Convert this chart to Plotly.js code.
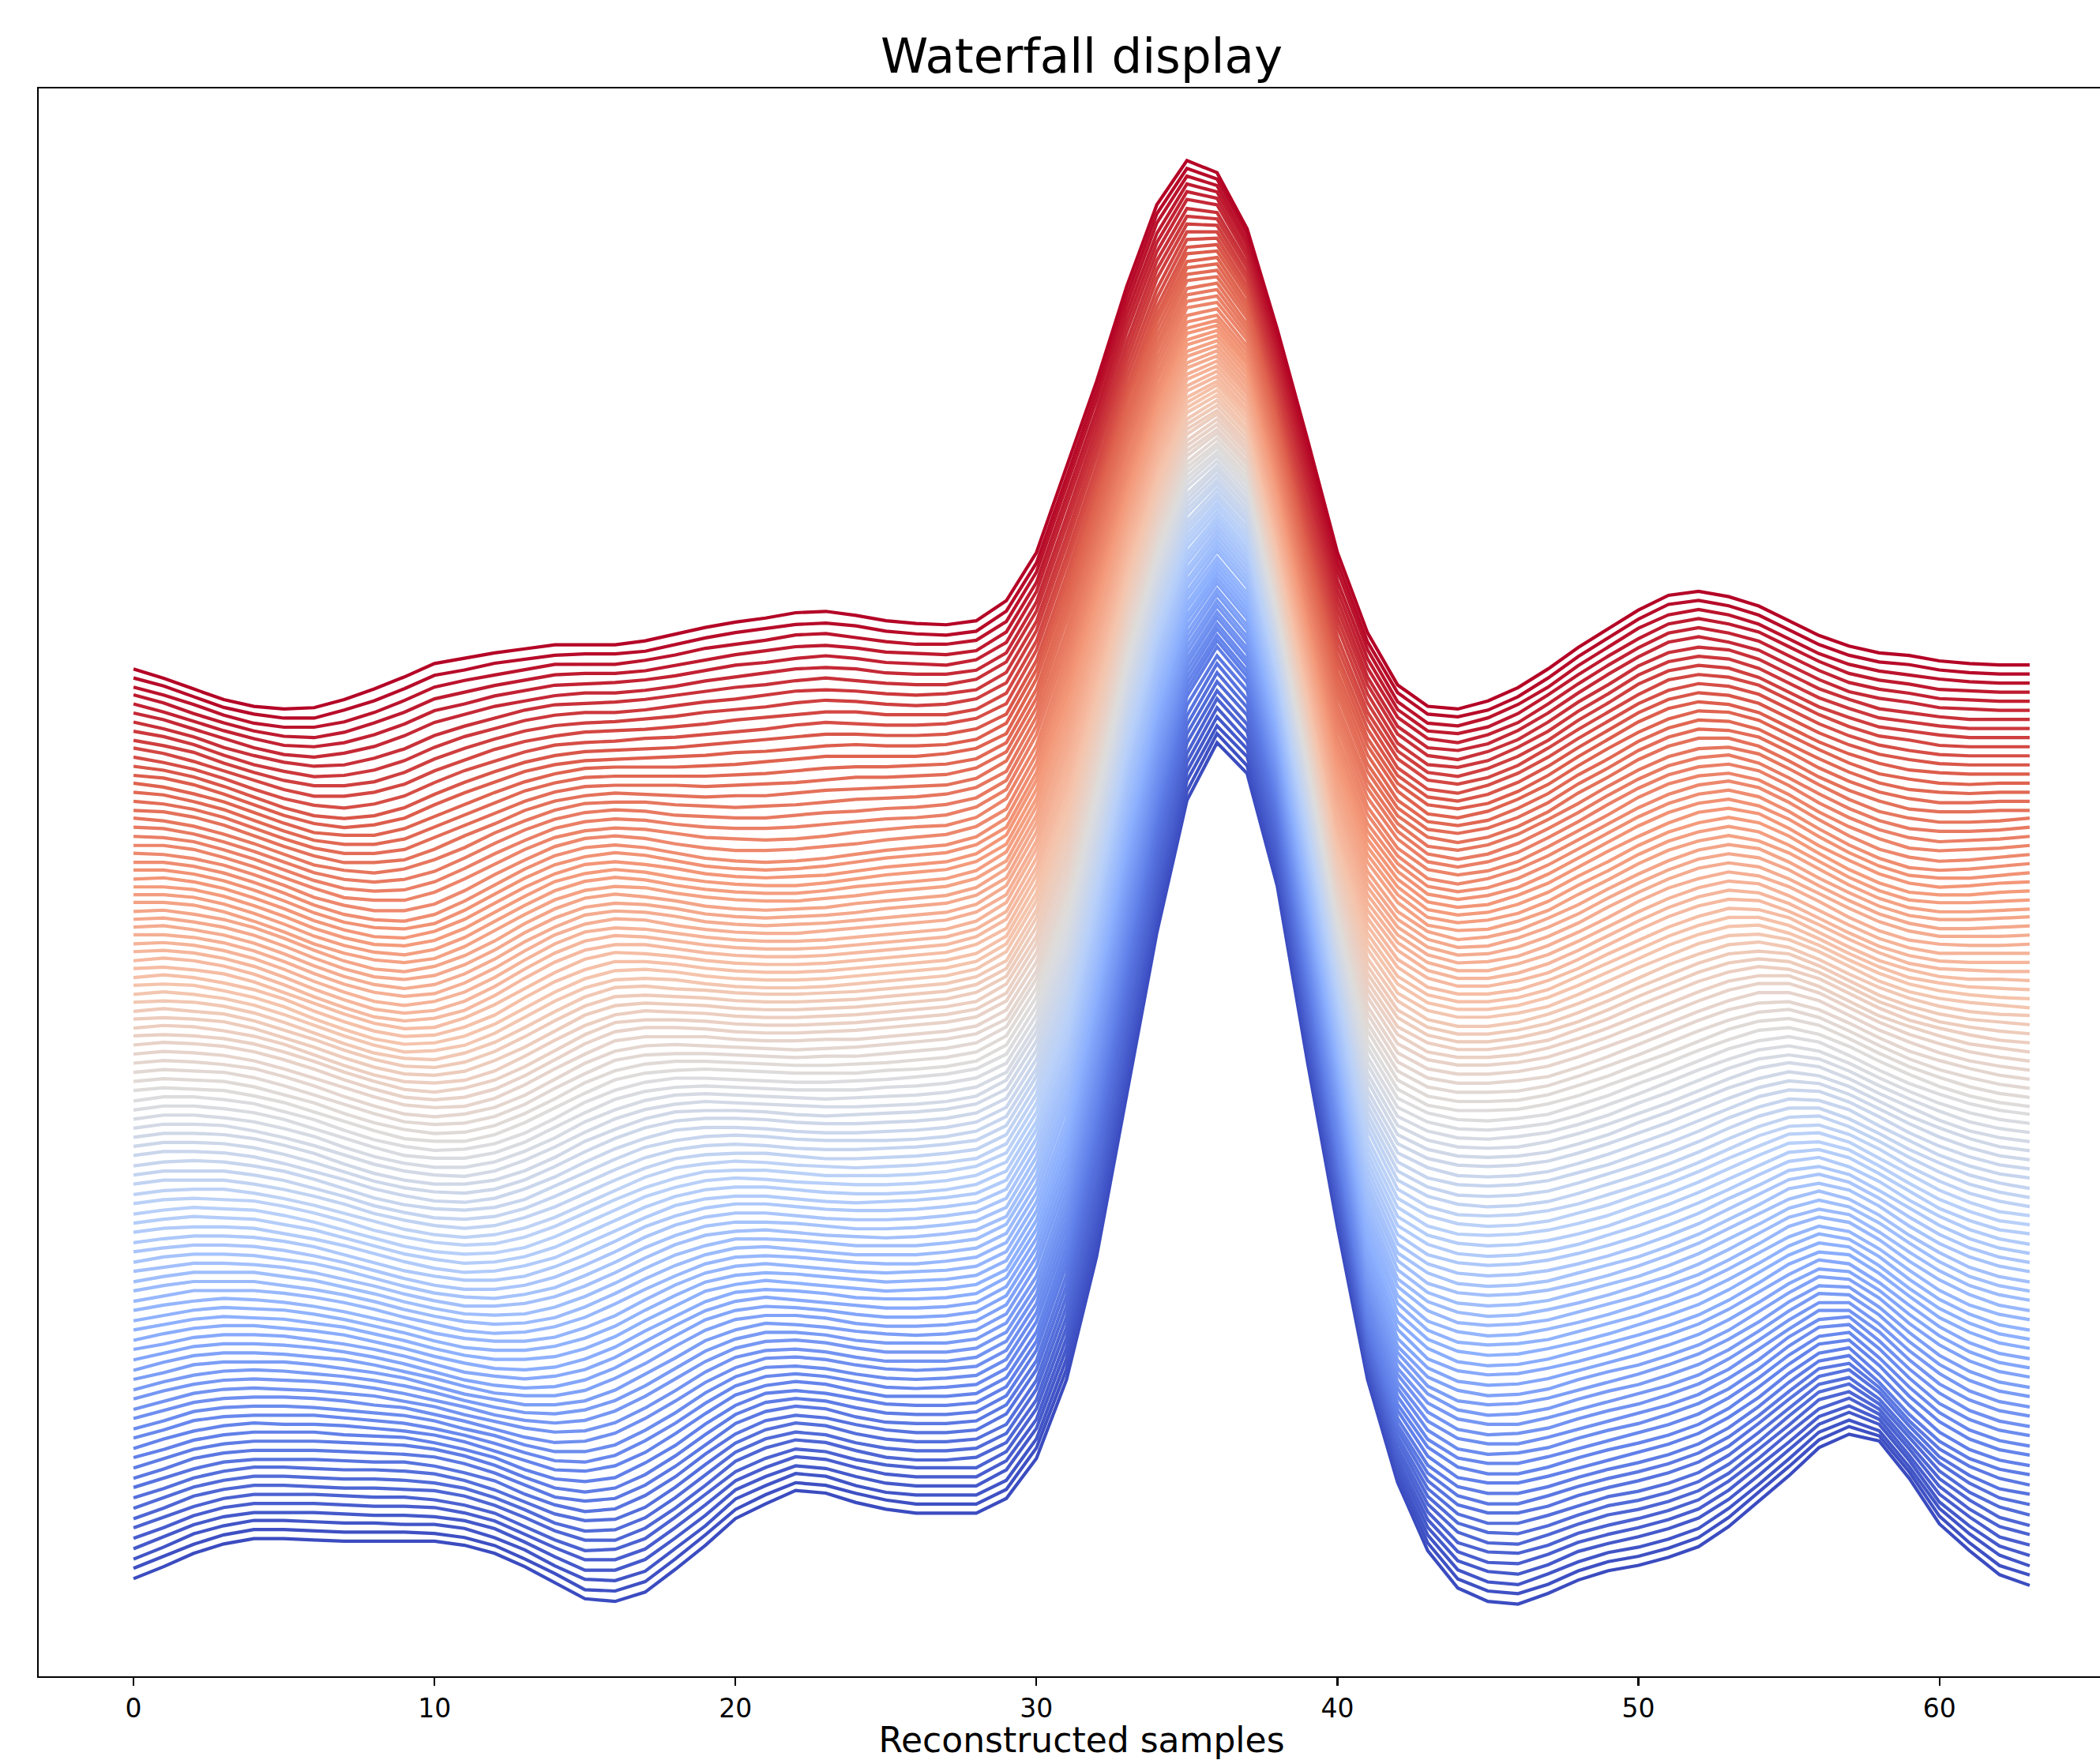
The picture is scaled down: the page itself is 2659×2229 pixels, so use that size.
<!DOCTYPE html>
<html><head><meta charset="utf-8">
<script src="https://cdn.plot.ly/plotly-3.0.1.min.js"></script>
<style>html,body{margin:0;padding:0;overflow:hidden;background:#fff;}</style>
</head><body><div id="chart"></div>
<script>
// x positions: sample index
const samples = [0,1,2,3,4,5,6,7,8,9,10,11,12,13,14,15,16,17,18,19,20,21,22,23,24,25,26,27,28,29,30,31,32,33,34,35,36,37,38,39,40,41,42,43,44,45,46,47,48,49,50,51,52,53,54,55,56,57,58,59,60,61,62,63];
const tickValues = [0,10,20,30,40,50,60];
// one array per waterfall row (signal value at each sample), bottom row first
const r00=[0,9,19,26,30,30,29,28,28,28,28,25,19,9,-3,-15,-17,-10,7,25,45,56,66,64,57,52,49,49,49,60,90,149,241,362,483,582,625,602,518,387,263,149,72,21,-7,-17,-19,-11,-1,6,10,16,24,39,58,77,98,108,103,75,41,21,3,-5];
const r01=[1,10,19,26,30,30,29,28,28,28,27,24,18,8,-3,-15,-16,-9,8,26,45,56,65,63,57,52,49,49,49,60,91,150,243,364,484,582,625,601,517,386,262,146,70,20,-7,-16,-18,-11,-1,6,10,16,24,39,58,77,97,107,100,73,40,20,3,-4];
const r02=[1,10,20,26,30,30,29,28,28,27,27,24,17,8,-4,-14,-15,-8,9,26,46,56,65,63,56,51,49,49,49,60,91,151,245,366,485,583,624,601,516,385,260,143,67,19,-7,-16,-18,-10,-1,6,10,16,24,39,57,76,96,105,97,70,39,20,4,-4];
const r03=[2,11,20,26,29,29,29,28,27,27,26,23,17,7,-4,-14,-14,-6,10,27,46,56,64,62,56,51,49,49,49,61,92,152,248,368,486,583,624,600,514,384,259,140,65,18,-7,-15,-17,-10,0,6,11,17,25,39,57,76,95,104,95,68,37,19,4,-3];
const r04=[3,11,20,26,29,29,29,28,27,27,26,22,16,6,-4,-13,-13,-5,11,28,46,56,64,62,56,51,49,49,49,61,92,153,250,370,487,583,624,599,513,383,257,137,62,17,-7,-15,-16,-9,0,6,11,17,25,39,57,75,94,102,92,65,36,19,4,-2];
const r05=[4,12,20,26,29,29,29,28,27,27,25,21,15,5,-5,-13,-12,-4,12,29,46,56,63,61,55,51,49,49,49,61,93,154,252,372,488,583,624,599,512,382,256,134,60,16,-7,-14,-15,-9,0,6,11,17,25,39,56,75,93,101,89,63,35,18,5,-1];
const r06=[4,12,21,26,29,29,28,27,27,26,25,21,14,5,-5,-12,-12,-3,12,29,47,57,63,61,55,50,48,48,50,61,93,155,254,375,490,584,623,598,511,380,254,130,57,15,-6,-14,-15,-8,0,7,11,17,25,38,56,74,93,99,86,60,34,18,5,-1];
const r07=[5,13,21,26,29,29,28,27,27,26,24,20,13,4,-6,-12,-11,-2,13,30,47,57,62,60,54,50,48,48,50,61,94,156,256,377,491,584,623,598,510,379,253,127,55,14,-6,-13,-14,-8,0,7,11,17,25,38,55,74,92,98,83,58,33,17,6,0];
const r08=[6,13,21,26,29,29,28,27,27,26,24,19,12,3,-6,-11,-10,-1,14,31,47,57,62,60,54,50,48,48,50,61,94,157,258,379,492,584,623,597,509,378,251,124,52,13,-6,-13,-13,-7,0,7,11,17,25,38,55,73,91,96,80,55,32,17,6,1];
const r09=[7,14,21,26,28,28,28,27,26,26,23,18,12,2,-6,-11,-9,1,15,32,47,57,61,59,54,50,48,48,50,62,95,158,261,381,493,584,623,596,507,377,250,121,50,12,-6,-12,-12,-7,1,7,12,18,26,38,55,73,90,95,78,53,30,16,6,2];
const r10=[7,14,22,26,28,28,28,27,26,25,23,18,11,2,-7,-10,-8,2,16,32,48,57,61,59,53,49,48,48,50,62,95,159,263,383,494,585,622,596,506,376,248,118,47,11,-6,-12,-12,-6,1,7,12,18,26,38,54,72,89,93,75,50,29,16,7,2];
const r11=[8,15,22,26,28,28,28,27,26,25,22,17,10,1,-7,-10,-7,3,17,33,48,57,60,58,53,49,48,48,50,62,96,160,265,385,495,585,622,595,505,375,247,115,45,10,-6,-11,-11,-6,1,7,12,18,26,38,54,72,88,92,72,48,28,15,7,3];
const r12=[9,15,22,26,28,28,28,26,25,24,20,15,9,0,-7,-9,-6,5,18,34,48,57,59,57,53,49,48,48,50,62,96,160,265,385,494,583,620,593,502,373,245,113,44,10,-6,-10,-10,-5,1,7,13,19,27,39,54,72,87,91,71,48,28,15,7,3];
const r13=[9,16,22,26,28,27,27,26,24,22,19,14,7,0,-7,-8,-4,6,20,35,49,56,59,57,52,48,48,48,50,62,96,160,266,385,493,581,617,590,500,370,243,110,42,10,-5,-10,-10,-5,2,8,13,19,27,39,55,72,87,90,71,48,29,16,8,4];
const r14=[10,16,23,26,27,27,27,25,23,21,17,12,6,-1,-7,-8,-3,8,21,36,49,56,58,56,52,48,47,48,50,62,97,160,266,385,492,579,615,588,497,368,241,108,41,9,-5,-9,-9,-4,2,8,14,20,28,40,55,72,86,89,70,48,29,16,8,4];
const r15=[10,16,23,26,27,27,26,24,22,20,16,10,5,-2,-7,-7,-2,9,22,37,49,56,57,55,51,48,47,48,50,62,97,160,267,385,491,577,612,585,494,366,239,106,40,9,-5,-9,-8,-4,3,9,14,21,29,40,55,72,86,88,70,48,29,17,9,5];
const r16=[11,17,23,26,27,27,26,24,21,19,14,9,3,-3,-7,-6,0,11,24,38,49,56,57,55,51,48,47,48,50,62,97,160,267,385,490,575,610,583,491,364,237,104,38,9,-4,-8,-8,-3,3,9,15,21,29,41,55,72,85,87,69,48,30,17,9,5];
const r17=[11,17,23,26,27,26,25,23,21,17,13,7,2,-3,-6,-5,1,12,25,39,50,55,56,54,50,47,47,47,50,62,97,160,268,385,490,572,607,580,489,361,235,101,37,9,-4,-8,-7,-3,4,10,15,22,30,41,56,71,85,85,69,48,30,18,10,6];
const r18=[12,18,23,26,27,26,25,23,20,16,11,6,0,-4,-6,-4,3,14,27,40,50,55,56,54,50,47,47,47,50,62,97,160,268,385,489,570,605,578,486,359,233,99,35,9,-3,-7,-7,-2,4,10,16,22,30,42,56,71,84,84,68,48,31,18,10,6];
const r19=[12,18,23,26,27,26,24,22,19,15,10,4,-1,-5,-6,-3,4,15,28,41,50,55,55,53,49,47,47,47,50,62,97,160,269,385,488,568,602,575,483,357,231,97,34,9,-3,-7,-6,-2,5,11,16,23,31,42,56,71,84,83,68,48,31,19,11,7];
const r20=[13,18,24,26,26,26,24,21,18,14,8,2,-2,-6,-6,-3,5,17,29,42,50,55,54,52,49,47,46,47,50,62,98,160,269,385,487,566,600,573,480,355,229,95,33,8,-3,-6,-5,-1,5,11,17,24,32,43,56,71,83,82,67,48,31,19,11,7];
const r21=[13,19,24,26,26,25,23,21,17,12,7,1,-4,-6,-6,-2,7,18,31,43,51,54,54,52,48,46,46,47,50,62,98,160,270,385,486,564,597,570,478,352,227,92,31,8,-2,-6,-5,-1,6,12,17,24,32,43,57,71,83,81,67,48,32,20,12,8];
const r22=[14,19,24,26,26,25,23,20,16,11,5,-1,-5,-7,-6,-1,8,20,32,44,51,54,53,51,48,46,46,47,50,62,98,160,270,385,485,562,595,568,475,350,225,90,30,8,-2,-5,-4,0,6,12,18,25,33,44,57,71,82,80,66,48,32,20,12,8];
const r23=[15,19,24,26,26,25,22,19,15,10,4,-2,-5,-7,-5,0,9,21,33,44,51,54,52,50,48,46,46,47,50,62,98,160,270,384,483,560,592,565,472,347,223,89,30,8,-1,-4,-3,1,6,12,19,26,34,45,58,71,82,79,65,48,32,20,12,8];
const r24=[15,20,24,26,26,24,22,19,14,9,3,-2,-6,-7,-5,1,10,22,33,44,51,53,52,50,47,46,46,47,50,62,98,160,269,383,482,557,589,562,469,345,220,87,29,9,-1,-4,-3,1,7,13,19,26,34,45,58,72,81,79,65,48,32,21,13,9];
const r25=[16,20,24,26,25,24,21,18,13,8,2,-3,-6,-6,-4,2,11,23,34,45,50,53,51,49,47,45,46,47,50,61,98,160,269,383,480,555,586,559,466,342,218,86,29,9,0,-3,-2,2,7,13,20,27,35,46,59,72,81,78,64,47,32,21,13,9];
const r26=[16,20,24,26,25,24,21,17,12,7,1,-4,-6,-6,-3,3,12,24,35,45,50,52,51,49,47,45,46,47,50,61,98,160,269,382,478,552,583,556,463,339,216,85,29,9,0,-2,-1,2,8,14,20,28,36,47,59,72,81,77,64,47,32,21,13,9];
const r27=[17,21,24,26,25,23,20,16,11,6,0,-4,-6,-6,-3,4,13,25,36,45,50,52,50,48,46,45,46,47,50,61,98,160,268,381,476,550,580,553,460,337,213,84,28,9,1,-2,-1,3,8,14,21,28,37,48,60,72,80,76,63,47,32,21,14,10];
const r28=[17,21,25,25,25,23,20,16,11,5,0,-5,-7,-6,-2,5,15,26,36,45,50,51,50,48,46,45,45,47,50,61,98,161,268,380,475,547,578,551,456,334,211,82,28,10,1,-1,0,3,9,15,21,29,37,48,60,73,80,76,63,47,33,22,14,10];
const r29=[18,22,25,25,25,22,19,15,10,4,-1,-5,-7,-6,-2,6,16,27,37,45,50,51,49,47,45,45,45,47,50,61,98,161,267,379,473,545,575,548,453,332,208,81,27,10,2,-1,0,4,9,15,22,29,38,49,61,73,79,75,62,47,33,22,15,11];
const r30=[18,22,25,25,25,22,19,14,9,3,-2,-6,-7,-6,-1,7,17,28,38,45,50,50,49,47,45,45,45,47,50,61,98,161,267,378,471,542,572,545,450,329,206,80,27,10,2,0,1,4,10,16,22,30,39,50,61,73,79,74,62,47,33,22,15,11];
const r31=[19,22,25,25,24,22,18,13,8,2,-3,-7,-7,-5,0,8,18,29,39,46,49,50,48,46,45,44,45,47,50,60,98,161,267,378,469,540,569,542,447,326,204,79,27,10,3,1,2,5,10,16,23,31,40,51,62,73,79,73,61,46,33,22,15,11];
const r32=[19,23,25,25,24,21,18,13,7,1,-4,-7,-8,-5,0,9,19,30,39,46,49,49,48,46,44,44,45,47,50,60,98,161,266,377,468,537,566,539,444,324,201,77,26,11,3,1,2,5,11,17,23,31,40,51,62,74,78,73,61,46,33,23,16,12];
const r33=[20,23,25,25,24,21,17,12,6,0,-5,-8,-8,-5,1,10,20,31,40,46,49,49,47,45,44,44,45,47,50,60,98,161,266,376,466,535,563,536,441,321,199,76,26,11,4,2,3,6,11,17,24,32,41,52,63,74,78,72,60,46,33,23,16,12];
const r34=[20,23,25,25,24,21,17,11,5,-1,-5,-8,-8,-5,2,11,21,32,40,46,49,49,47,45,44,44,45,47,50,60,98,161,265,374,464,532,560,533,438,318,196,75,26,11,5,3,4,7,12,18,25,33,42,53,63,74,77,71,59,46,33,23,16,12];
const r35=[21,24,25,25,24,20,16,11,5,-1,-6,-9,-8,-4,2,12,22,32,41,46,48,48,46,44,43,44,45,47,50,60,98,161,264,373,461,529,556,530,435,316,194,74,26,12,5,3,4,7,12,19,26,34,43,53,64,74,77,70,59,45,33,23,16,12];
const r36=[21,24,26,25,24,20,16,10,4,-2,-6,-9,-8,-4,3,13,23,33,41,46,48,48,46,44,43,43,44,46,50,60,97,160,263,371,459,527,553,526,431,313,191,73,26,12,6,4,5,8,13,19,27,35,44,54,64,74,76,70,58,45,32,23,16,13];
const r37=[21,24,26,25,24,20,15,9,3,-3,-7,-9,-8,-4,4,14,24,34,41,46,48,47,45,44,43,43,44,46,50,60,97,160,262,370,457,524,550,523,428,310,189,72,26,12,6,5,6,9,14,20,28,36,45,55,65,74,75,69,57,44,32,23,16,13];
const r38=[22,25,26,25,24,20,15,9,2,-3,-7,-9,-8,-3,5,15,25,34,41,46,47,47,45,43,43,43,44,46,50,60,97,160,261,368,455,521,546,520,425,307,186,71,26,13,7,5,6,9,15,21,29,37,46,56,65,74,75,68,56,44,32,23,16,13];
const r39=[22,25,26,26,23,19,14,8,2,-4,-8,-10,-8,-3,5,15,25,35,42,45,47,46,44,43,42,43,44,46,49,60,97,160,261,367,452,518,543,517,422,305,184,71,26,13,7,6,7,10,15,22,29,37,46,56,66,73,74,67,56,43,32,23,17,13];
const r40=[23,26,26,26,23,19,14,8,1,-4,-8,-10,-8,-2,6,16,26,35,42,45,46,46,44,42,42,43,44,46,49,60,97,160,260,365,450,515,539,514,419,302,181,70,26,14,8,6,7,10,16,23,30,38,47,57,66,73,74,66,55,43,32,23,17,13];
const r41=[23,26,26,26,23,19,13,7,0,-5,-9,-10,-8,-2,7,17,27,36,42,45,46,45,43,42,42,43,44,46,49,60,97,160,259,364,448,512,536,511,416,299,179,69,26,14,8,7,8,11,17,24,31,39,48,58,67,73,73,65,54,42,32,23,17,13];
const r42=[23,26,27,26,23,19,13,6,-1,-6,-9,-10,-8,-2,8,18,28,37,42,45,46,45,43,42,42,42,43,45,49,60,96,159,258,362,446,510,533,507,412,296,176,68,26,14,9,8,9,12,18,24,32,40,49,59,67,73,72,65,53,42,31,23,17,14];
const r43=[24,27,27,26,23,18,12,6,-1,-6,-10,-11,-8,-1,8,19,29,37,43,45,45,44,42,41,41,42,43,45,49,60,96,159,257,361,443,507,529,504,409,294,174,67,26,15,9,8,9,12,18,25,33,41,50,59,68,73,72,64,53,41,31,23,17,14];
const r44=[24,27,27,26,23,18,12,5,-2,-7,-10,-11,-8,-1,9,20,30,38,43,45,45,44,42,41,41,42,43,45,49,60,96,159,256,359,441,504,526,501,406,291,171,66,26,15,10,9,10,13,19,26,34,42,51,60,68,73,71,63,52,41,31,23,17,14];
const r45=[24,27,27,26,23,18,12,4,-3,-8,-11,-11,-8,-1,9,21,30,38,43,44,44,43,41,40,41,42,43,45,49,60,96,159,255,357,439,501,523,498,403,288,169,66,26,15,10,9,10,13,19,26,35,43,52,61,68,73,70,62,51,40,31,23,17,14];
const r46=[24,27,27,26,22,17,11,4,-3,-8,-11,-12,-8,0,10,21,31,38,42,44,43,42,41,40,40,41,42,44,48,60,96,158,254,356,436,498,519,494,400,286,166,65,26,15,10,9,10,14,20,27,35,43,52,61,69,73,70,61,50,40,30,22,17,14];
const r47=[24,27,27,25,22,17,11,3,-4,-9,-12,-12,-8,0,10,22,31,38,42,43,42,41,40,39,40,41,42,44,48,59,95,158,253,354,434,496,516,491,396,283,164,65,26,15,10,9,11,14,20,27,36,44,53,62,69,72,69,60,49,39,30,22,17,14];
const r48=[24,27,27,25,22,17,10,3,-4,-10,-12,-12,-8,0,11,22,32,38,41,42,41,40,39,39,39,41,42,44,48,59,95,158,252,352,432,493,513,488,393,280,161,64,26,15,10,9,11,14,20,28,36,45,54,62,69,72,68,59,48,38,29,22,17,14];
const r49=[24,27,27,25,22,16,10,2,-5,-10,-13,-12,-8,0,11,23,32,38,41,41,40,39,38,38,39,40,42,44,48,59,95,158,251,351,430,490,509,485,390,277,159,64,26,15,10,9,11,14,21,28,37,45,54,63,69,72,68,58,47,37,29,22,17,14];
const r50=[25,27,26,25,21,16,9,2,-5,-11,-13,-13,-8,1,12,23,33,38,40,41,40,39,38,38,38,40,41,43,47,59,95,157,251,349,427,487,506,481,387,275,156,63,26,14,10,10,11,15,21,29,37,46,55,63,70,72,67,58,47,37,28,21,16,13];
const r51=[25,27,26,25,21,15,9,1,-6,-11,-14,-13,-8,1,12,24,33,38,40,40,39,38,37,37,38,39,41,43,47,59,95,157,250,348,425,484,502,478,384,272,154,63,26,14,10,10,11,15,22,29,38,46,55,64,70,72,67,57,46,36,28,21,16,13];
const r52=[25,27,26,25,21,15,8,1,-6,-12,-14,-13,-8,1,13,24,34,38,39,39,38,37,36,37,37,39,41,43,47,59,95,157,249,346,423,481,499,475,381,269,151,62,26,14,10,10,11,15,22,30,38,47,56,64,70,72,66,56,45,35,27,21,16,13];
const r53=[25,27,26,24,21,15,8,0,-7,-13,-15,-13,-8,1,13,25,34,38,39,38,37,36,35,36,37,39,41,43,47,58,94,157,248,344,421,479,496,472,377,266,149,62,26,14,10,10,12,15,22,30,39,48,57,65,70,71,65,55,44,34,27,21,16,13];
const r54=[25,27,26,24,20,14,7,0,-7,-13,-15,-14,-8,2,14,25,35,38,38,38,36,35,35,36,36,38,40,42,46,58,94,156,247,343,418,476,492,468,374,264,146,61,26,14,10,10,12,16,23,31,39,48,57,65,71,71,65,54,43,34,26,20,16,13];
const r55=[25,27,26,24,20,14,7,-1,-8,-14,-16,-14,-8,2,14,26,35,38,38,37,35,34,34,35,36,38,40,42,46,58,94,156,246,341,416,473,489,465,371,261,144,61,26,14,10,10,12,16,23,31,40,49,58,66,71,71,64,53,42,33,26,20,16,13];
const r56=[25,26,25,23,19,13,6,-2,-9,-15,-17,-14,-8,2,14,26,35,37,37,36,34,33,33,34,35,37,39,41,45,57,94,156,245,339,414,470,486,462,368,258,142,60,26,13,9,9,11,16,23,31,40,49,58,66,70,70,62,51,40,32,25,19,16,13];
const r57=[24,26,25,22,18,12,4,-4,-11,-16,-17,-15,-8,3,15,26,34,37,36,35,33,32,32,33,34,36,38,40,44,57,93,155,244,337,411,468,483,458,365,256,139,59,25,13,8,8,11,15,23,31,41,50,59,66,70,68,61,50,39,30,24,19,15,13];
const r58=[24,25,24,22,17,10,3,-5,-12,-17,-18,-15,-7,3,15,27,34,36,35,34,32,31,31,32,33,35,37,39,44,56,93,155,243,336,409,465,479,455,361,253,137,58,25,12,7,7,10,15,22,31,41,50,59,66,69,67,59,48,37,29,22,18,15,13];
const r59=[23,25,23,21,16,9,2,-6,-13,-18,-19,-15,-7,4,16,27,34,35,34,33,31,30,30,31,32,34,36,38,43,55,93,155,242,334,407,462,476,452,358,250,135,57,24,11,6,6,9,14,22,31,41,50,59,66,68,66,57,46,35,27,21,17,15,13];
const r60=[23,24,23,20,15,8,0,-8,-15,-19,-20,-15,-7,4,16,27,34,35,33,32,30,29,29,30,31,33,35,37,42,54,92,155,241,332,405,459,473,449,355,247,132,56,24,10,5,5,8,14,22,31,41,51,59,66,68,64,55,44,34,26,20,16,14,13];
const r61=[22,24,22,19,14,7,-1,-9,-16,-21,-20,-16,-7,5,17,27,33,34,33,30,28,27,27,28,30,32,34,36,41,54,92,154,241,330,402,457,470,445,352,245,130,56,23,10,5,5,8,13,22,32,42,51,60,66,67,63,54,43,32,24,19,16,14,12];
const r62=[22,23,22,18,13,6,-3,-11,-18,-22,-21,-16,-7,5,17,27,33,34,32,29,27,26,26,27,29,31,33,35,40,53,91,154,240,328,400,454,467,442,349,242,127,55,23,9,4,4,7,13,22,32,42,52,60,66,67,61,52,41,31,23,18,15,13,12];
const r63=[21,23,21,17,12,5,-4,-12,-19,-23,-22,-16,-7,6,18,27,33,33,31,28,26,25,25,26,28,30,32,34,39,52,91,154,239,326,398,451,464,439,346,239,125,54,22,8,3,3,6,12,22,32,42,52,60,66,66,60,50,39,29,21,17,14,13,12];
const r64=[21,22,20,17,11,3,-5,-13,-20,-24,-23,-16,-6,6,18,28,33,32,30,27,25,24,24,25,27,29,31,33,39,51,91,154,238,325,396,448,460,436,342,236,123,53,22,7,2,2,5,12,21,32,42,52,60,66,65,59,48,37,27,20,15,13,13,12];
const r65=[20,22,20,16,10,2,-7,-15,-22,-25,-23,-17,-6,7,19,28,32,32,29,26,24,23,23,24,26,28,30,32,38,51,90,153,237,323,393,446,457,432,339,234,120,52,21,7,1,1,5,11,21,32,43,53,61,66,65,57,47,36,26,18,14,13,12,12];
const r66=[20,21,19,15,9,1,-8,-16,-23,-26,-24,-17,-6,7,19,28,32,31,28,25,23,22,22,23,25,27,29,31,37,50,90,153,236,321,391,443,454,429,336,231,118,51,21,6,0,0,4,11,21,32,43,53,61,66,64,56,45,34,24,17,13,12,12,12];
const r67=[19,20,18,14,8,0,-9,-17,-24,-27,-24,-17,-6,7,19,28,31,30,27,24,22,21,21,22,24,26,28,30,36,50,90,153,235,319,389,441,451,426,333,228,116,50,20,5,-1,-1,4,11,21,32,43,53,61,66,64,55,44,33,23,16,12,12,12,12];
const r68=[19,19,17,13,7,-1,-10,-18,-24,-27,-25,-17,-6,7,19,27,31,30,26,23,21,20,20,22,24,26,28,30,36,49,89,153,234,317,386,438,448,423,330,226,115,49,19,4,-2,-1,3,11,21,32,44,54,61,66,63,55,44,32,22,15,12,11,11,12];
const r69=[18,19,16,12,6,-2,-11,-19,-25,-28,-25,-17,-6,7,18,27,30,29,26,22,20,19,20,21,23,25,27,29,35,49,89,152,233,316,384,436,445,419,327,223,113,48,18,3,-3,-2,3,11,21,33,44,54,62,66,63,54,43,32,22,15,11,11,11,12];
const r70=[17,18,15,11,5,-3,-12,-20,-26,-28,-25,-17,-6,7,18,26,29,28,25,21,19,18,19,20,22,25,27,29,35,48,89,152,232,314,382,433,442,416,324,220,111,47,17,2,-4,-3,3,11,21,33,44,54,62,66,63,54,42,31,21,14,10,10,11,12];
const r71=[16,17,14,10,4,-4,-13,-21,-27,-29,-25,-17,-6,7,18,26,29,27,24,20,18,17,18,19,22,24,26,28,34,48,88,152,231,312,380,431,439,413,321,217,110,46,16,1,-5,-3,2,11,21,33,44,54,62,66,63,53,41,30,20,13,10,10,11,12];
const r72=[16,16,14,9,2,-6,-15,-22,-27,-29,-26,-17,-5,7,18,25,28,27,23,20,18,17,17,19,21,24,26,28,34,47,88,152,231,310,377,428,436,410,319,215,108,46,16,-1,-5,-4,2,10,22,33,45,55,62,66,62,53,41,29,19,12,9,9,10,11];
const r73=[15,15,13,8,1,-7,-16,-23,-28,-30,-26,-17,-5,7,18,25,28,26,22,19,17,16,16,18,21,23,25,27,33,47,87,152,230,308,375,426,433,407,316,212,107,45,15,-2,-6,-4,1,10,22,33,45,55,62,66,62,52,40,28,18,11,9,9,10,11];
const r74=[14,14,12,7,0,-8,-17,-24,-29,-30,-26,-17,-5,7,18,24,27,25,21,18,16,15,15,17,20,23,25,27,33,46,87,152,229,306,373,423,430,404,313,209,105,44,14,-3,-7,-5,1,10,22,33,45,55,62,66,62,52,39,27,17,10,8,8,10,11];
const r75=[13,14,11,6,-1,-9,-18,-25,-30,-31,-26,-17,-5,7,17,24,26,24,21,17,15,14,15,16,19,22,24,26,32,46,87,151,228,305,371,421,427,400,310,206,103,43,13,-4,-8,-6,1,10,22,34,45,55,63,66,62,51,38,27,17,10,7,8,10,11];
const r76=[13,13,10,5,-2,-10,-19,-26,-30,-31,-27,-17,-5,7,17,23,26,24,20,16,14,13,14,16,19,22,24,26,32,45,86,151,227,303,368,418,424,397,307,204,102,42,12,-5,-9,-6,0,10,22,34,46,56,63,66,61,51,38,26,16,9,7,7,9,11];
const r77=[12,12,9,4,-3,-11,-20,-27,-31,-32,-27,-17,-5,7,17,23,25,23,19,15,13,12,13,15,18,21,23,25,31,45,86,151,226,301,366,416,421,394,304,201,100,41,11,-6,-10,-7,0,10,22,34,46,56,63,66,61,50,37,25,15,8,6,7,9,11];
const r78=[12,11,8,3,-4,-12,-21,-27,-31,-31,-26,-16,-4,7,17,23,25,23,19,16,14,14,15,17,19,22,24,26,32,45,86,151,225,300,365,414,419,391,302,199,99,41,10,-7,-11,-7,0,10,22,34,46,56,63,66,61,50,37,25,15,9,6,7,9,11];
const r79=[11,11,8,2,-5,-13,-21,-28,-30,-30,-24,-14,-3,8,17,22,24,23,20,17,16,15,16,18,21,23,25,26,32,46,86,151,225,299,363,413,417,389,299,198,99,40,9,-7,-11,-8,-1,10,22,34,47,57,63,65,60,49,36,25,16,9,7,8,9,11];
const r80=[11,10,7,1,-6,-14,-22,-28,-30,-29,-23,-13,-2,8,17,22,24,23,20,18,17,17,18,20,22,24,25,27,33,46,87,151,224,299,362,411,415,386,297,196,98,40,9,-8,-12,-8,-1,10,22,35,47,57,63,65,60,49,36,25,16,10,7,8,9,11];
const r81=[11,10,6,0,-7,-15,-23,-28,-30,-28,-22,-12,-1,9,17,22,24,23,20,19,18,18,20,22,23,25,26,28,33,46,87,151,224,298,361,409,413,383,295,194,97,40,8,-9,-13,-9,-1,10,22,35,47,57,63,65,59,48,36,25,16,10,8,8,9,11];
const r82=[11,9,5,-1,-8,-16,-24,-28,-30,-27,-20,-11,0,9,17,22,23,23,21,20,19,20,21,23,25,26,27,29,34,46,87,151,223,297,360,407,411,380,293,192,96,39,7,-10,-13,-9,-1,10,22,35,47,57,63,64,59,48,36,25,16,11,8,8,9,11];
const r83=[10,9,5,-1,-9,-17,-24,-29,-29,-27,-19,-9,0,10,17,21,23,22,21,20,21,21,23,25,26,27,28,29,34,47,87,152,223,296,358,406,409,378,290,191,96,39,6,-10,-14,-10,-2,9,23,35,48,58,64,64,58,47,35,25,17,11,9,9,10,10];
const r84=[10,8,4,-2,-10,-18,-25,-29,-29,-26,-17,-8,1,10,17,21,22,22,22,21,22,23,24,26,28,28,29,30,35,47,87,152,222,295,357,404,407,375,288,189,95,38,5,-11,-14,-10,-2,9,23,35,48,58,64,63,58,47,35,25,17,12,9,9,10,10];
const r85=[10,8,3,-3,-11,-19,-26,-29,-29,-25,-16,-7,2,11,17,21,22,22,22,22,23,24,26,28,29,29,30,31,35,47,87,152,222,294,356,402,405,372,286,187,94,38,4,-12,-15,-11,-2,9,23,35,48,58,64,63,57,46,35,25,17,12,10,9,10,10];
const r86=[10,7,2,-4,-12,-20,-27,-29,-29,-24,-15,-6,3,11,17,21,22,22,22,23,24,26,28,30,30,30,30,32,36,47,88,152,221,294,355,400,403,369,284,185,93,38,4,-13,-16,-11,-2,9,23,36,48,58,64,63,57,46,35,25,17,13,10,9,10,10];
const r87=[9,7,2,-5,-13,-21,-27,-30,-28,-23,-13,-4,4,12,17,20,21,22,23,24,26,27,29,31,32,31,31,32,36,48,88,152,221,293,353,399,401,367,281,184,93,37,3,-13,-16,-12,-3,9,23,36,49,59,64,62,56,45,34,25,18,13,11,10,10,10];
const r88=[9,6,1,-6,-14,-22,-28,-30,-28,-22,-12,-3,5,12,17,20,21,22,23,25,27,29,31,33,33,32,32,33,37,48,88,152,220,292,352,397,399,364,279,182,92,37,2,-14,-17,-12,-3,9,23,36,49,59,64,62,56,45,34,25,18,14,11,10,10,10];
const r89=[9,5,0,-7,-15,-22,-27,-29,-26,-20,-10,-1,6,13,18,20,21,23,24,26,28,30,33,35,34,33,33,34,38,49,89,153,220,292,352,396,397,361,277,182,92,37,1,-15,-18,-12,-3,9,23,36,49,59,64,62,56,45,34,25,18,14,11,10,10,10];
const r90=[9,5,-1,-8,-15,-22,-27,-27,-24,-18,-8,0,8,14,18,21,22,23,25,27,30,32,34,36,36,34,34,34,38,50,89,153,220,292,352,395,395,359,276,181,92,36,1,-15,-18,-13,-4,9,23,36,49,60,64,62,56,45,34,25,18,15,11,10,10,10];
const r91=[8,4,-1,-9,-16,-22,-26,-26,-23,-16,-6,2,9,15,19,21,22,24,26,29,31,33,36,38,37,35,34,35,39,51,90,154,221,292,353,394,393,356,274,181,93,36,0,-16,-19,-13,-4,8,23,36,50,60,64,62,55,44,33,25,18,15,12,10,10,10];
const r92=[8,4,-2,-10,-17,-22,-26,-25,-21,-14,-4,4,10,16,20,22,22,24,27,30,32,35,38,39,38,36,35,36,39,52,90,154,221,292,353,393,391,354,272,181,93,36,-1,-17,-19,-14,-4,8,23,36,50,60,64,62,55,44,33,25,18,15,12,10,10,10];
const r93=[8,3,-3,-11,-17,-22,-25,-24,-19,-12,-2,5,11,17,21,22,23,25,28,31,34,36,39,41,39,37,36,36,40,53,91,155,221,292,353,392,389,351,271,181,93,36,-1,-17,-20,-14,-5,8,23,36,50,60,64,62,55,44,33,25,18,15,12,10,10,10];
const r94=[8,3,-4,-11,-18,-23,-25,-22,-17,-9,1,7,13,17,21,23,23,25,28,32,35,38,41,42,41,38,37,37,40,53,91,155,221,293,353,392,388,349,269,180,93,35,-2,-18,-20,-15,-5,8,23,37,50,61,65,61,55,44,33,24,19,16,12,11,10,10];
const r95=[8,2,-5,-12,-18,-23,-24,-21,-15,-7,3,8,14,18,22,23,24,26,29,33,37,39,42,44,42,39,38,37,41,54,92,156,221,293,353,391,386,346,268,180,93,35,-2,-18,-21,-15,-6,8,23,37,50,61,65,61,55,44,33,24,19,16,12,11,10,10];
const r96=[8,2,-6,-13,-19,-23,-24,-20,-13,-5,5,10,15,19,23,24,24,26,30,34,38,41,44,45,43,40,39,38,41,55,92,156,221,293,353,390,384,344,266,180,93,35,-3,-19,-21,-16,-6,8,23,37,50,61,65,61,55,44,33,24,19,16,12,11,10,10];
const r97=[7,1,-6,-14,-20,-23,-23,-19,-12,-3,7,12,16,20,24,24,24,27,31,36,39,42,46,47,44,41,39,39,42,56,93,157,222,293,354,389,382,341,264,180,94,35,-4,-20,-22,-16,-6,7,23,37,51,61,65,61,54,43,32,24,19,16,13,11,10,10];
const r98=[7,1,-7,-15,-20,-23,-23,-17,-10,-1,9,13,18,21,24,25,25,27,32,37,41,44,47,48,46,42,40,39,42,57,93,157,222,293,354,388,380,339,263,179,94,34,-4,-20,-22,-17,-7,7,23,37,51,62,65,61,54,43,32,24,19,17,13,11,10,10];
const r99=[7,0,-8,-16,-21,-23,-22,-16,-8,1,11,15,19,22,25,25,25,28,33,38,42,45,49,50,47,43,41,40,43,58,94,158,222,293,354,387,378,336,261,179,94,34,-5,-21,-23,-17,-7,7,23,37,51,62,65,61,54,43,32,24,19,17,13,11,10,10];

const rows=[r00,r01,r02,r03,r04,r05,r06,r07,r08,r09,r10,r11,r12,r13,r14,r15,r16,r17,r18,r19,
 r20,r21,r22,r23,r24,r25,r26,r27,r28,r29,r30,r31,r32,r33,r34,r35,r36,r37,r38,r39,
 r40,r41,r42,r43,r44,r45,r46,r47,r48,r49,r50,r51,r52,r53,r54,r55,r56,r57,r58,r59,
 r60,r61,r62,r63,r64,r65,r66,r67,r68,r69,r70,r71,r72,r73,r74,r75,r76,r77,r78,r79,
 r80,r81,r82,r83,r84,r85,r86,r87,r88,r89,r90,r91,r92,r93,r94,r95,r96,r97,r98,r99];

// display style: vertical waterfall offset per row, coolwarm colour map
const ROW_OFFSET = 6.8;
const COOLWARM = [[59,76,192],[98,130,234],[141,176,254],[184,208,249],[221,221,221],[245,196,173],[244,154,123],[222,96,77],[180,4,38]];
function cw(t){const n=COOLWARM.length-1;const p=Math.max(0,Math.min(1,t))*n;const k=Math.min(Math.floor(p),n-1);const f=p-k;const a=COOLWARM[k],b=COOLWARM[k+1];
 return 'rgb('+[0,1,2].map(j=>Math.round(a[j]+(b[j]-a[j])*f)).join(',')+')';}
const traces = rows.map((r,i)=>({x:samples,y:r.map(v=>v+i*ROW_OFFSET),type:'scatter',mode:'lines',
 line:{color:cw(i/(rows.length-1)),width:4.2},hoverinfo:'skip',showlegend:false}));
let lo=Infinity,hi=-Infinity;traces.forEach(t=>t.y.forEach(v=>{lo=Math.min(lo,v);hi=Math.max(hi,v);}));
const pad=(hi-lo)*0.05;
const xlo=samples[0], xhi=samples[samples.length-1], xpad=(xhi-xlo)*0.05;
const font='DejaVu Sans, Liberation Sans, sans-serif';
const layout={width:2700,height:2229,margin:{l:49,r:10,t:112,b:106},paper_bgcolor:'#fff',plot_bgcolor:'#fff',
 title:{text:'Waterfall display',font:{family:font,size:61,color:'#000'},x:0.5,xref:'paper',xanchor:'center',y:1-71/2229,yref:'container',yanchor:'middle'},
 xaxis:{range:[xlo-xpad,xhi+xpad],tickvals:tickValues,ticks:'outside',ticklen:10,tickwidth:2.2,tickcolor:'#000',
   showline:true,linecolor:'#000',linewidth:2.2,mirror:true,showgrid:false,zeroline:false,
   tickfont:{family:font,size:33,color:'#000'},title:{text:'Reconstructed samples',font:{family:font,size:44,color:'#000'},standoff:15}},
 yaxis:{range:[lo-pad,hi+pad],showticklabels:false,ticks:'',showline:true,linecolor:'#000',linewidth:2.2,mirror:true,showgrid:false,zeroline:false}};
Plotly.newPlot('chart',traces,layout,{displayModeBar:false,staticPlot:true});
</script></body></html>
